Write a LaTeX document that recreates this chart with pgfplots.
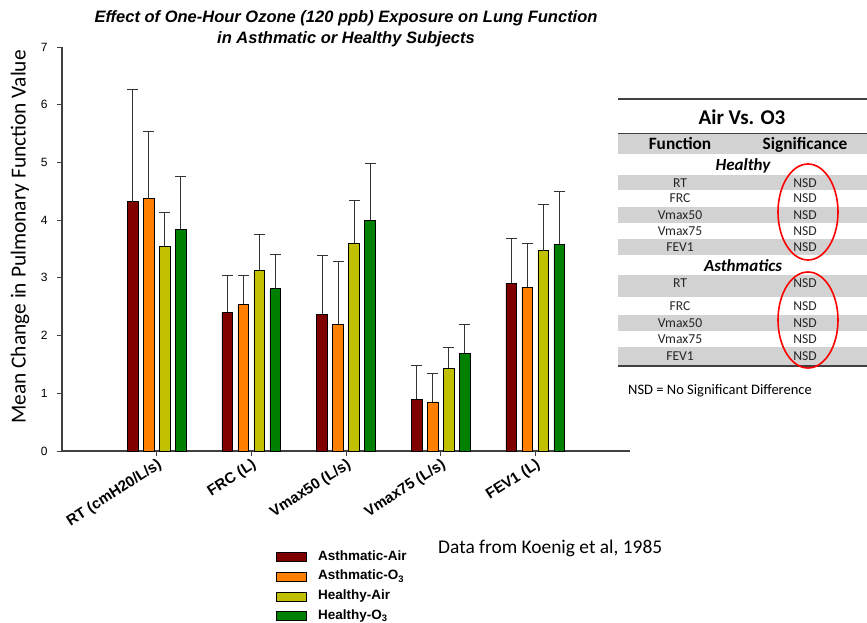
\documentclass[border=0pt]{standalone}
\usepackage{pgfplots}
\pgfplotsset{compat=1.18}
\usepackage{fontspec}
\setmainfont{Liberation Sans}
\newfontfamily\calibri{Carlito}
\definecolor{aair}{HTML}{800000}
\definecolor{ao3}{HTML}{FF8000}
\definecolor{hair}{HTML}{C0C000}
\definecolor{ho3}{HTML}{008000}
\definecolor{tgray}{HTML}{D2D2D2}
\definecolor{axgray}{HTML}{404040}
\newcommand{\fs}[1]{\fontsize{#1bp}{1.2\dimexpr#1bp\relax}\selectfont}
\pgfplotsset{legbox/.style={legend image code/.code={\draw[##1,line width=0.8bp,draw=black] (0bp,-4.5bp) rectangle (30bp,4.5bp);}}}
\begin{document}
\begin{tikzpicture}
\path[use as bounding box] (0bp,0bp) rectangle (867bp,-623bp);
\begin{axis}[
  at={(62bp,-451bp)}, anchor=south west,
  width=568bp, height=404bp, scale only axis,
  xmin=-1, xmax=5, ymin=0, ymax=7,
  axis lines*=left,
  axis line style={axgray, line width=1.2bp},
  tick align=outside, major tick length=5bp,
  tick style={axgray, line width=0.8bp},
  xtick={0,...,4},
  xticklabels={RT (cmH20/L/s), FRC (L), Vmax50 (L/s), Vmax75 (L/s), FEV1 (L)},
  ytick={0,...,7},
  /pgf/number format/assume math mode=true,
  y tick label style={font=\fs{12}, xshift=-6bp},
  x tick label style={rotate=33, anchor=north east, font=\bfseries\fs{15}, inner sep=1bp},
  ylabel={Mean Change in Pulmonary Function Value},
  ylabel style={at={(axis description cs:-0.074,0.53)}, anchor=center, rotate=0, font=\calibri\fs{21.4}},
  title={Effect of One-Hour Ozone (120 ppb) Exposure on Lung Function\\[1.5bp]in Asthmatic or Healthy Subjects},
  title style={at={(axis description cs:0.5,1)}, anchor=south, align=center, inner sep=0pt, yshift=-6.5bp, font=\bfseries\itshape\fs{16.5}},
  ybar=5.3bp, bar width=10.7bp,
  error bars/y dir=plus, error bars/y explicit,
  error bars/error bar style={black!80, line width=0.8bp},
  error bars/error mark options={black!80, line width=0.8bp, mark size=5.5bp, rotate=90},
  legend style={at={(axis description cs:0.3768,-0.2428)}, anchor=north west, draw=none, fill=none,
    font=\bfseries\fs{13.5}, inner sep=0pt, row sep=4.2bp, column sep=10bp,
    nodes={inner sep=1bp, text height=10bp, text depth=3.5bp}},
  legend cell align=left,
]
\addplot[fill=aair, draw=black, line width=0.8bp, legbox] coordinates {
 (0,4.32) +- (0,1.94)
 (1,2.40) +- (0,0.64)
 (2,2.36) +- (0,1.03)
 (3,0.90) +- (0,0.58)
 (4,2.91) +- (0,0.77)
};
\addlegendentry{Asthmatic-Air}
\addplot[fill=ao3, draw=black, line width=0.8bp, legbox] coordinates {
 (0,4.37) +- (0,1.17)
 (1,2.54) +- (0,0.50)
 (2,2.20) +- (0,1.09)
 (3,0.85) +- (0,0.50)
 (4,2.84) +- (0,0.75)
};
\addlegendentry{Asthmatic-O\textsubscript{3}}
\addplot[fill=hair, draw=black, line width=0.8bp, legbox] coordinates {
 (0,3.55) +- (0,0.58)
 (1,3.13) +- (0,0.63)
 (2,3.60) +- (0,0.75)
 (3,1.43) +- (0,0.36)
 (4,3.47) +- (0,0.80)
};
\addlegendentry{Healthy-Air}
\addplot[fill=ho3, draw=black, line width=0.8bp, legbox] coordinates {
 (0,3.84) +- (0,0.92)
 (1,2.81) +- (0,0.60)
 (2,4.00) +- (0,0.99)
 (3,1.69) +- (0,0.51)
 (4,3.58) +- (0,0.91)
};
\addlegendentry{Healthy-O\textsubscript{3}}
\end{axis}
% annotation
\node[anchor=west, inner sep=0pt, font=\calibri\fs{19.4}] at (438bp,-548bp) {Data from Koenig et al, 1985};
% table
\fill[tgray] (618bp,-133bp) rectangle (867bp,-154bp);
\fill[tgray] (618bp,-175bp) rectangle (867bp,-190bp);
\fill[tgray] (618bp,-207bp) rectangle (867bp,-223bp);
\fill[tgray] (618bp,-239bp) rectangle (867bp,-255bp);
\fill[tgray] (618bp,-275bp) rectangle (867bp,-297bp);
\fill[tgray] (618bp,-315bp) rectangle (867bp,-331bp);
\fill[tgray] (618bp,-347bp) rectangle (867bp,-365bp);
\draw[axgray, line width=1.5bp] (618bp,-99bp) -- (867bp,-99bp);
\draw[axgray, line width=0.6bp] (618bp,-133bp) -- (867bp,-133bp);
\draw[axgray, line width=1.5bp] (618bp,-366bp) -- (867bp,-366bp);
\node[anchor=base, inner sep=0pt, font=\calibri\bfseries\fs{21}] at (742bp,-124bp) {Air Vs. O3};
\node[anchor=base, inner sep=0pt, font=\calibri\bfseries\fs{17.3}] at (680bp,-149.2bp) {Function};
\node[anchor=base, inner sep=0pt, font=\calibri\bfseries\fs{17.3}] at (805bp,-149.2bp) {Significance};
\node[anchor=base, inner sep=0pt, font=\calibri\bfseries\itshape\fs{17}] at (743bp,-170.5bp) {Healthy};
\node[anchor=base, inner sep=0pt, font=\calibri\bfseries\itshape\fs{17}] at (743bp,-271.5bp) {Asthmatics};
\foreach \t/\y in {RT/182.7, FRC/198.3, Vmax50/215, Vmax75/230.7, FEV1/246.7, RT/283.3, FRC/306, Vmax50/323.3, Vmax75/339.3, FEV1/355.7}{
  \node[anchor=base, inner sep=0pt, font=\calibri\fs{13.6}, text=black!85] at (680bp,-\y bp-4.4bp) {\t};
  \node[anchor=base, inner sep=0pt, font=\calibri\fs{13.6}, text=black!85] at (805bp,-\y bp-4.4bp) {NSD};
}
\draw[red, line width=1.6bp] (808bp,-212bp) ellipse [x radius=30bp, y radius=48bp];
\draw[red, line width=1.6bp] (808bp,-320bp) ellipse [x radius=30bp, y radius=48bp];
\node[anchor=base west, inner sep=0pt, font=\calibri\fs{14.5}] at (628bp,-394.5bp) {NSD = No Significant Difference};
\end{tikzpicture}
\end{document}
